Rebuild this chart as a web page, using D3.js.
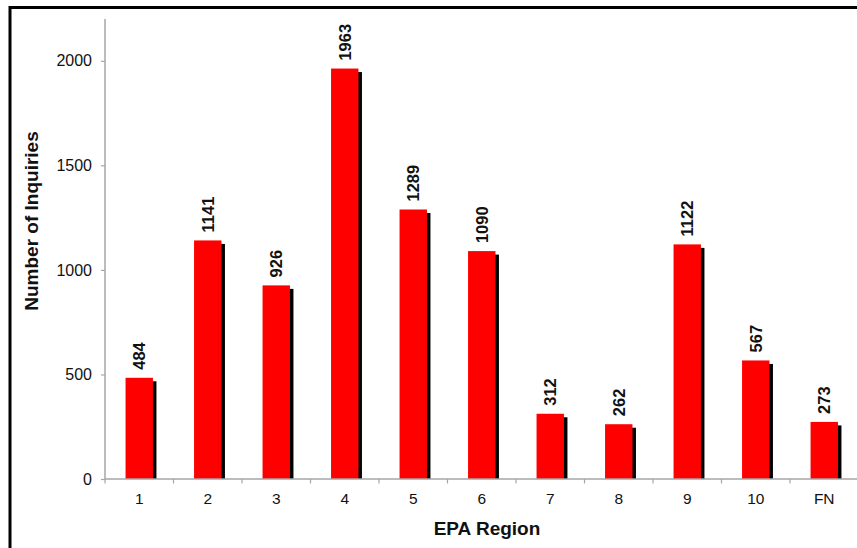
<!DOCTYPE html>
<html>
<head>
<meta charset="utf-8">
<script src="https://cdn.jsdelivr.net/npm/d3@7/dist/d3.min.js"></script>
<style>
  html, body { margin: 0; padding: 0; background: #fff; }
  svg { display: block; font-family: "Liberation Sans", Arial, Helvetica, sans-serif; }
</style>
</head>
<body>
<svg id="chart" width="857" height="548"></svg>
<script>
// Inquiries received per EPA region
const regions = ["1", "2", "3", "4", "5", "6", "7", "8", "9", "10", "FN"];
const inquiries = [484, 1141, 926, 1963, 1289, 1090, 312, 262, 1122, 567, 273];
const yTicks = [0, 500, 1000, 1500, 2000];

const svg = d3.select("#chart");
const plotLeft = 105, plotRight = 858.5, plotTop = 19, plotBottom = 479;

// outer frame (runs past the right and bottom edges of the view)
svg.append("rect")
  .attr("x", 10).attr("y", 7.5)
  .attr("width", 900).attr("height", 600)
  .attr("fill", "none").attr("stroke", "#000").attr("stroke-width", 3);

const x = d3.scaleBand().domain(regions).range([plotLeft, plotRight])
  .paddingInner(0.6).paddingOuter(0.3);
const y = d3.scaleLinear().domain([0, 2200]).range([plotBottom, plotTop]);

const data = regions.map((r, i) => ({ region: r, value: inquiries[i] }));

// drop shadows behind bars
svg.append("g").selectAll("rect").data(data).join("rect")
  .attr("x", d => x(d.region) + 3.5)
  .attr("y", d => y(d.value) + 3.5)
  .attr("width", x.bandwidth())
  .attr("height", d => Math.max(0, plotBottom - y(d.value) - 3.5))
  .attr("fill", "#000");

// bars
svg.append("g").selectAll("rect").data(data).join("rect")
  .attr("x", d => x(d.region))
  .attr("y", d => y(d.value))
  .attr("width", x.bandwidth())
  .attr("height", d => plotBottom - y(d.value))
  .attr("fill", "#ff0000");

// value labels, rotated above each bar
svg.append("g").selectAll("text").data(data).join("text")
  .attr("transform", d => `translate(${x(d.region) + x.bandwidth() / 2 + 6},${y(d.value) - 8}) rotate(-90)`)
  .attr("text-anchor", "start")
  .attr("font-size", 16.5)
  .attr("font-weight", "bold")
  .attr("fill", "#111")
  .text(d => d.value);

const axisColor = "#a6a6a6";

// y axis
const yAxis = svg.append("g")
  .attr("transform", `translate(${plotLeft},0)`)
  .call(d3.axisLeft(y).tickValues(yTicks).tickFormat(d3.format("d"))
    .tickSize(4).tickPadding(9).tickSizeOuter(0));
yAxis.select(".domain").remove();
yAxis.append("line")
  .attr("x1", 0).attr("x2", 0).attr("y1", plotTop).attr("y2", plotBottom)
  .attr("stroke", axisColor).attr("stroke-width", 1.5);
yAxis.selectAll(".tick line").attr("stroke", axisColor).attr("stroke-width", 1.2);
yAxis.selectAll(".tick text")
  .attr("font-size", 16).attr("fill", "#111")
  .attr("font-family", "Liberation Sans, Arial, sans-serif");

// x axis with ticks between categories
const xg = svg.append("g");
xg.append("line")
  .attr("x1", plotLeft).attr("x2", plotRight).attr("y1", plotBottom).attr("y2", plotBottom)
  .attr("stroke", axisColor).attr("stroke-width", 1.5);
const step = x.step();
const bounds = d3.range(regions.length + 1).map(i => plotLeft + i * step);
xg.selectAll("line.tk").data(bounds).join("line")
  .attr("class", "tk")
  .attr("x1", d => d).attr("x2", d => d)
  .attr("y1", plotBottom).attr("y2", plotBottom + 4.5)
  .attr("stroke", axisColor).attr("stroke-width", 1.2);
xg.selectAll("text").data(regions).join("text")
  .attr("x", d => x(d) + x.bandwidth() / 2)
  .attr("y", plotBottom + 25)
  .attr("text-anchor", "middle")
  .attr("font-size", 15.5)
  .attr("fill", "#111")
  .text(d => d);

// axis titles
svg.append("text")
  .attr("x", 487).attr("y", 535)
  .attr("text-anchor", "middle")
  .attr("font-size", 19).attr("font-weight", "bold").attr("fill", "#111")
  .text("EPA Region");

svg.append("text")
  .attr("transform", "translate(38,221) rotate(-90)")
  .attr("text-anchor", "middle")
  .attr("font-size", 19).attr("font-weight", "bold").attr("fill", "#111")
  .text("Number of Inquiries");
</script>
</body>
</html>
